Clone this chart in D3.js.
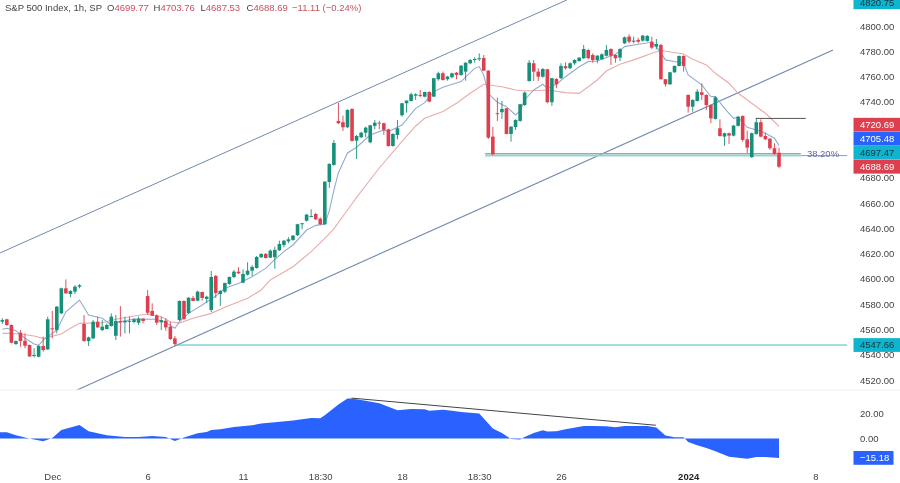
<!DOCTYPE html>
<html>
<head>
<meta charset="utf-8">
<script src="https://cdn.jsdelivr.net/npm/d3@7"></script>
<style>
    html, body { margin: 0; padding: 0; background: #fff; }
    svg { display: block; font-family: "Liberation Sans", sans-serif; filter: blur(0.3px); }
    .axis text { font-size: 9.5px; fill: #444; }
</style>
</head>
<body>
<svg id="chart" width="900" height="483"></svg>
<script>
// hourly candles, one entry per bar
var opens = [4566.1,4568,4563.5,4548.5,4557.4,4551.1,4547.7,4539,4538.4,4546.9,4544.2,4560.9,4559.5,4572.7,4592.5,4588,4589.9,4593.8,4564.3,4550.8,4552.9,4566.1,4559.5,4560.3,4562.7,4555,4566.7,4565.6,4566.1,4565.9,4565.3,4568.5,4586.4,4574.6,4571.1,4565.6,4566.9,4562.2,4552.9,4567.5,4582.5,4573,4584.9,4582.7,4589.6,4584.1,4575.4,4602.3,4588,4589.9,4596,4601.5,4605.7,4597,4603.3,4606.5,4608.6,4617.1,4619.7,4616.8,4617.1,4622.6,4626.8,4629.7,4630.8,4634.5,4643.2,4646,4649.2,4651.3,4647.6,4643.2,4676.6,4690.1,4724.9,4723.9,4719.9,4734.4,4709.3,4712,4715.6,4708,4721,4723.5,4723.1,4718.3,4705.1,4713.8,4729.4,4738.9,4740.7,4744.9,4745.4,4744.1,4747.8,4744.1,4757.9,4762.6,4757.9,4759.5,4763.1,4761.3,4763.9,4770.5,4773.1,4773.7,4774.7,4764.7,4712.5,4731,4731.8,4734.9,4714.6,4720.1,4724.9,4737.5,4756.5,4770.5,4763.9,4759.9,4765.8,4739.7,4758.1,4758.7,4768.2,4766.6,4770.5,4772.3,4774.5,4781,4777.1,4773.1,4773.7,4776.5,4781.8,4777.1,4775,4786.3,4791.6,4787.6,4789,4788.4,4788.2,4787.6,4783.7,4785,4757.9,4753.9,4763.4,4768.4,4776.3,4745.5,4736.2,4740.7,4747.6,4745.5,4737.5,4726.5,4719.1,4712.5,4715.2,4713.3,4721,4728.9,4710.4,4696.2,4714.6,4723.9,4713,4710.9,4703.3,4699.77];
var highs = [4568.8,4568.5,4564,4551.2,4559.5,4556.9,4548,4545,4547.7,4554.3,4570.1,4574.8,4578.5,4593,4599.6,4591.2,4595.1,4595.9,4571.4,4554.3,4567.4,4570.1,4567.4,4564.8,4572.7,4571.4,4578.5,4570.1,4570.1,4568.8,4570.1,4568.8,4591.2,4580.6,4571.9,4570.1,4568.8,4566.1,4554.8,4583,4583,4585.5,4586.5,4590.7,4590,4586.7,4606.2,4603.1,4591.2,4597,4601.7,4607,4609.2,4607.6,4613.1,4611,4618.1,4620.2,4620.5,4623.4,4625.5,4630.2,4630.8,4632.9,4634.7,4643.6,4644.2,4651.3,4655,4652.3,4648.7,4677.2,4691.5,4709.9,4739.1,4729.1,4734.1,4734.9,4713.8,4716.4,4720.4,4721.8,4725.7,4725.1,4723.5,4718.8,4715.2,4725.7,4739.1,4741.1,4747.3,4746.8,4749.4,4748,4748.4,4758.9,4763.9,4763.9,4760.5,4763.1,4763.6,4769.2,4771.2,4773.9,4775.3,4778.4,4777.1,4765,4720.1,4743.3,4740.7,4735.2,4720.7,4726.2,4738.3,4748,4773.1,4773.1,4766.6,4766.6,4766.1,4759,4758.7,4770.5,4771.3,4771.3,4773.7,4775.3,4785,4781.8,4778.4,4777.1,4778.4,4785,4782.4,4777.6,4782.4,4791.6,4793.5,4791.6,4790.8,4792.9,4792.9,4791.6,4789.7,4785.9,4758.1,4763.7,4768.7,4776.6,4776.8,4745.8,4742,4750,4754.7,4745.8,4737.8,4744.5,4726.2,4715.7,4715.7,4721.7,4728.9,4729.2,4717.2,4715.7,4727.3,4726.2,4715.7,4711.2,4707.3,4703.76];
var lows = [4564.3,4562.7,4549,4547.7,4546.3,4545,4538.4,4537.9,4537.9,4542.4,4543.8,4552.9,4556.9,4572.2,4588.3,4585.4,4588,4592.5,4550.3,4546.9,4552.7,4561.4,4558.7,4560.1,4562.2,4551.6,4554.3,4556.9,4556.9,4564.8,4563.5,4564.8,4571.4,4570.6,4563.5,4559.5,4559,4551.6,4546.9,4566.7,4567.5,4572.2,4582.5,4582.3,4582.7,4580.9,4573.8,4584.9,4578.6,4588.8,4595.2,4600.5,4603.9,4596.5,4602.8,4602.3,4608.1,4616.5,4616,4616.5,4608,4622,4625,4628.2,4630.2,4633.9,4639.2,4645.2,4648.7,4646.6,4642.6,4642.6,4671.9,4689.5,4722.5,4717,4719.1,4708.7,4694.8,4711.2,4712,4707.2,4718.3,4718.3,4713.8,4704.6,4704.6,4710.4,4728.3,4731.5,4740.2,4741.5,4743.6,4743.6,4739.7,4743.9,4756.8,4756.8,4756.8,4758.7,4757.9,4760.5,4756.8,4769.7,4771,4772.3,4764.4,4710.6,4697.8,4724.9,4726.5,4714.3,4708.5,4717.8,4724.3,4736.8,4756,4756.5,4756.5,4759.1,4738.9,4736.8,4750.8,4758.1,4765.5,4766,4769.2,4771.8,4773.9,4773.7,4771,4770.5,4773.1,4775.8,4769.2,4771,4772.3,4785.8,4786.3,4786.3,4786.3,4787.6,4787.6,4781.6,4781.6,4757.6,4752,4753.4,4763,4768,4763.9,4731.5,4732.2,4740.2,4741.5,4733.6,4723.1,4726,4712.5,4705.1,4706.7,4712.7,4720.5,4708.5,4699.6,4695.8,4714,4712,4709.9,4702,4698,4687.53];
var closes = [4567.4,4563.5,4549.5,4550.8,4550.8,4547.1,4538.6,4539.8,4546.9,4543.7,4568,4560.1,4578,4592.5,4588.5,4590.4,4593.8,4594.9,4550.8,4553.7,4566.1,4561.6,4562.2,4563.5,4570.1,4566.7,4565.6,4566.7,4566.7,4568,4568.5,4566.7,4573.2,4570.9,4565.3,4567.4,4561.6,4552.4,4548.5,4582.5,4568.3,4585.1,4582.5,4589.9,4584.9,4585.9,4601.5,4588.8,4590.4,4596.7,4601.5,4605.7,4604.4,4603.9,4606.5,4609.4,4617.3,4619.7,4616.5,4622.3,4622.9,4627.6,4630.2,4631.3,4634.2,4643.2,4644,4650.8,4649.7,4647.1,4643.2,4676.9,4690.9,4707.5,4723.1,4719.9,4733.6,4709.1,4713,4715.6,4719.6,4721.5,4723.5,4723.1,4717.8,4705.1,4714.6,4719.1,4738.9,4741,4746,4746,4744.9,4747.8,4740.2,4758.7,4762.6,4757.3,4760,4762.6,4761.3,4768.6,4771,4773.1,4773.9,4774.5,4764.7,4711.7,4698.5,4730.4,4734.4,4714.6,4720.4,4725.7,4738.1,4747.3,4771,4763.9,4759.9,4766,4739.7,4758.7,4753.9,4768.4,4766.6,4770.5,4773.1,4775,4781.8,4774.5,4773.1,4776.5,4777.6,4781,4776.5,4774.5,4781.8,4791.1,4787.6,4788.4,4787.6,4792.4,4792.1,4782.9,4785.8,4757.9,4753.9,4763.4,4768.4,4776.3,4768.4,4736.2,4741.5,4748.1,4745.5,4737.5,4727,4743.6,4713,4715.2,4713.3,4721.2,4728.3,4709.9,4703.8,4715.2,4723.9,4712.5,4710.4,4703.3,4698.8,4688.69];

// fast and slow moving averages, vertices only (bar number, price)
var fastBars = [0,1,3,5,7,8,9,11,12,14,17,19,22,24,26,29,34,36,38,39,41,44,47,49,52,55,58,60,62,64,67,69,71,72,73,74,76,78,81,84,85,88,91,93,95,97,101,104,105,106,107,109,111,113,114,115,117,119,120,122,124,127,129,131,135,137,140,143,144,146,148,150,151,154,156,157,159,161,162,164,166,168,170,171];
var fastValues = [4560.1,4560.9,4559,4553,4548.5,4547.4,4551.6,4556.9,4559.5,4574,4583.3,4571.4,4568.8,4563.5,4566.1,4568.2,4568,4565.3,4560.9,4566.1,4572.7,4579.3,4586.4,4592.5,4596.4,4601.7,4608.3,4615.4,4621.5,4626.8,4638.6,4642.3,4643.1,4654,4670,4684,4699.6,4704.1,4713.8,4717.8,4716.4,4721.7,4734.9,4739.4,4748.1,4751.5,4756,4766.5,4767.9,4761.2,4746.7,4739.6,4736.2,4729.6,4732.8,4741.5,4749.4,4753.9,4750.7,4753.9,4759.9,4767.8,4771.8,4772.3,4777.6,4783.7,4785.5,4787.1,4783.7,4773.2,4771.9,4770.5,4761.3,4753.4,4744.2,4744.2,4734.9,4727,4727.8,4719.9,4717.8,4715.2,4711.2,4705.48];
var slowBars = [0,2,4,7,9,13,15,17,22,25,29,32,35,37,39,42,46,49,54,57,59,64,68,71,73,76,78,83,87,91,93,97,100,103,106,110,113,115,120,124,127,129,131,133,136,140,143,145,150,152,155,157,160,162,165,168,171];
var slowValues = [4556.9,4556.9,4556.4,4554.8,4552.9,4556.4,4560.9,4564.8,4565.3,4568,4570.6,4572.2,4570.1,4566.1,4565,4568.8,4572.7,4577.5,4584.6,4591.2,4599.1,4609.6,4621.5,4632,4639.5,4654.5,4664.5,4687.7,4704.6,4720.9,4727,4732.3,4738.9,4746.8,4753.9,4752,4749.4,4748.6,4749.4,4747.3,4746.7,4752,4757.3,4764.4,4769.7,4774.4,4778.4,4780.6,4777.9,4773.7,4769.2,4762.6,4754.7,4746.8,4738.9,4731,4720.69];

// lower pane, oscillator vertices
var oscBars = [-1,1,3,5,7,9,11,13,17,19,23,27,30,33,36,38,40,43,45,46,48,51,55,57,60,64,68,70,71,74,76,77,80,83,87,90,93,94,97,99,101,105,106,108,110,112,114,115,117,119,120,122,124,128,130,133,135,137,142,144,146,148,150,151,153,155,157,160,161,164,166,168,171];
var oscValues = [5,5,2.6,0.8,-0.8,-2.1,0.5,6.8,10.8,5.8,2.6,1.3,1.3,2.1,1.3,-1.8,0.8,4.2,5.2,6.8,7.4,9.2,10.5,11.8,12.9,14.2,16.3,16,18.4,26.8,31.5,31.5,29.9,27.8,22.3,23.3,23.1,22,22.8,22,21,19.7,15.8,7.9,4.5,-0.3,-0.8,1.3,4.5,6.6,5.5,5.8,7.4,10,10,9.7,8.9,10,10,8.7,2.4,1,1,-2.6,-5.3,-7.4,-10,-14.2,-14.7,-15.8,-14.4,-14.4,-15.18];

// trend lines as [bar, price] pairs
var upperChannel = [[-0.5, 4620.5], [124.3, 4820.6]];
var lowerChannel = [[16.45, 4512.1], [182.9, 4781.05]];
var divergence = [[76.9, 31.9], [143.9, 10.5]];

var priceTicks = [4520,4540,4560,4580,4600,4620,4640,4660,4680,4740,4760,4780,4800];
var oscTicks = [0,20];
var timeBars = [11,32,53,70,88,105,123,151,179];
var timeLabels = ['Dec','6','11','18:30','18','18:30','26','2024','8'];

var lastPrice = 4688.69, slowLast = 4720.69, fastLast = 4705.48;
var fibPrice = 4697.47, fibTop = 4698.9, pivotPrice = 4547.66, topPrice = 4820.75, resistance = 4726.9;
var oscLast = -15.18;

var upColor = '#17907b', downColor = '#de3f4e', tealBadge = '#0fb5cf', blueArea = '#2962ff';

var svg = d3.select('#chart');
var x = d3.scaleLinear().domain([0, 171]).range([2.3, 779]);
var y = d3.scaleLinear().domain([4520, 4800]).range([380, 26]);
var yOsc = d3.scaleLinear().domain([0, 20]).range([438.6, 413.2]);

svg.append('clipPath').attr('id', 'mainClip').append('rect')
    .attr('x', 0).attr('y', 0).attr('width', 853).attr('height', 390);

var main = svg.append('g').attr('clip-path', 'url(#mainClip)');

//
//   Drawing objects under the candles
//
//////////////////////////////////////////////////////////////////////

function trend(parent, pts, yScale, color, width) {
    parent.append('line')
        .attr('x1', x(pts[0][0])).attr('y1', yScale(pts[0][1]))
        .attr('x2', x(pts[1][0])).attr('y2', yScale(pts[1][1]))
        .attr('stroke', color).attr('stroke-width', width);
}

trend(main, upperChannel, y, '#7189ae', 1);
trend(main, lowerChannel, y, '#7189ae', 1.1);

// pivot line out to its label
trend(main, [[38, pivotPrice], [186, pivotPrice]], y, '#45bccb', 1);

// 38.2 fib band, line continues to the badge after the text
trend(main, [[106.3, fibTop], [175.8, fibTop]], y, '#9aa8a8', 1.6);
trend(main, [[106.3, fibPrice], [175.8, fibPrice]], y, '#8fd6da', 1.6);
trend(main, [[175.8, fibPrice], [186, fibPrice]], y, '#45bccb', 1);

// moving averages
var maLine = d3.line().x(function(d) { return x(d[0]); }).y(function(d) { return y(d[1]); });

main.append('path')
    .attr('d', maLine(d3.zip(slowBars, slowValues)))
    .attr('fill', 'none').attr('stroke', '#e9acac').attr('stroke-width', 1.1);
main.append('path')
    .attr('d', maLine(d3.zip(fastBars, fastValues)))
    .attr('fill', 'none').attr('stroke', '#93abd0').attr('stroke-width', 1.1);

//
//   Candles
//
//////////////////////////////////////////////////////////////////////

var candles = main.selectAll('g.candle')
    .data(d3.range(opens.length))
    .enter().append('g')
    .attr('class', 'candle');

function candleColor(i) {
    return closes[i] >= opens[i] ? upColor : downColor;
}

candles.append('line')
    .attr('x1', function(i) { return x(i); })
    .attr('x2', function(i) { return x(i); })
    .attr('y1', function(i) { return y(highs[i]); })
    .attr('y2', function(i) { return y(lows[i]); })
    .attr('stroke', candleColor)
    .attr('stroke-width', 0.9);

candles.append('rect')
    .attr('x', function(i) { return x(i) - 1.8; })
    .attr('width', 3.6)
    .attr('y', function(i) { return y(Math.max(opens[i], closes[i])); })
    .attr('height', function(i) { return Math.max(0.9, Math.abs(y(opens[i]) - y(closes[i]))); })
    .attr('fill', candleColor);

// dark resistance segment sits on top
trend(main, [[165.9, resistance], [176.9, resistance]], y, '#555', 1);

main.append('text')
    .attr('x', 823).attr('y', y(fibPrice) - 1.6)
    .attr('text-anchor', 'middle').attr('dominant-baseline', 'middle')
    .attr('font-size', 9.5).attr('fill', '#6a65a8')
    .text('38.20%');

//
//   Oscillator pane
//
//////////////////////////////////////////////////////////////////////

svg.append('line')
    .attr('x1', 0).attr('x2', 900).attr('y1', 390).attr('y2', 390)
    .attr('stroke', '#eef0f3').attr('stroke-width', 1);

var oscArea = d3.area()
    .x(function(d) { return x(d[0]); })
    .y0(yOsc(0))
    .y1(function(d) { return yOsc(d[1]); });

svg.append('path')
    .attr('d', oscArea(d3.zip(oscBars, oscValues)))
    .attr('fill', blueArea);

trend(svg, divergence, yOsc, '#444', 1);

//
//   Axes
//
//////////////////////////////////////////////////////////////////////

var yAxis = d3.axisRight(y).tickValues(priceTicks).tickSize(0).tickPadding(0)
    .tickFormat(d3.format('.2f'));
svg.append('g').attr('class', 'axis').attr('transform', 'translate(860,0)').call(yAxis)
    .call(function(g) { g.select('.domain').remove(); });

var oscAxis = d3.axisRight(yOsc).tickValues(oscTicks).tickSize(0).tickPadding(0)
    .tickFormat(d3.format('.2f'));
svg.append('g').attr('class', 'axis').attr('transform', 'translate(860,0)').call(oscAxis)
    .call(function(g) { g.select('.domain').remove(); });

var xAxis = d3.axisBottom(x).tickValues(timeBars).tickSize(0).tickPadding(0)
    .tickFormat(function(d, i) { return timeLabels[i]; });
svg.append('g').attr('class', 'axis').attr('transform', 'translate(0,473)').call(xAxis)
    .call(function(g) {
        g.select('.domain').remove();
        g.selectAll('text').filter(function(d) { return d === 151; })
            .style('font-weight', 'bold').style('fill', '#222');
    });

//
//   Price badges
//
//////////////////////////////////////////////////////////////////////

function badge(cy, value, bg, fg, bx, bw) {
    svg.append('rect')
        .attr('x', bx).attr('y', cy - 6.9).attr('width', bw).attr('height', 13.8)
        .attr('fill', bg);
    svg.append('text')
        .attr('x', 860).attr('y', cy).attr('dy', '0.35em')
        .attr('font-size', 9.5).attr('fill', fg)
        .text(value);
}

// the TV scale pushes colliding labels apart, stacked up from the last price
var stackY = y(lastPrice);
badge(stackY, d3.format('.2f')(lastPrice), downColor, '#fff', 853.5, 46.5);
badge(stackY - 14, d3.format('.2f')(fibPrice), tealBadge, '#12353b', 853.5, 46.5);
badge(stackY - 28, d3.format('.2f')(fastLast), blueArea, '#fff', 853.5, 46.5);
badge(stackY - 42, d3.format('.2f')(slowLast), downColor, '#fff', 853.5, 46.5);
badge(y(pivotPrice), d3.format('.2f')(pivotPrice), tealBadge, '#12353b', 853.5, 46.5);
badge(y(topPrice) + 2.5, d3.format('.2f')(topPrice), tealBadge, '#12353b', 853.5, 46.5);
badge(yOsc(oscLast), '\u2212' + d3.format('.2f')(-oscLast), blueArea, '#fff', 853.5, 40);

//
//   Header
//
//////////////////////////////////////////////////////////////////////

var legend = svg.append('g').attr('font-size', 9.5);
legend.append('text').attr('x', 5).attr('y', 10.5).attr('fill', '#444').text('S&P 500 Index, 1h, SP');

var ohlcLabels = ['O', 'H', 'L', 'C'];
var ohlcValues = [opens[171], highs[171], lows[171], closes[171]];
var ohlcX = [107, 153.5, 200.5, 246.5];
ohlcLabels.forEach(function(label, n) {
    var t = legend.append('text').attr('x', ohlcX[n]).attr('y', 10.5).attr('fill', '#444').text(label);
    t.append('tspan').attr('fill', '#c9515e').text(d3.format('.2f')(ohlcValues[n]));
});
legend.append('text').attr('x', 292).attr('y', 10.5).attr('fill', '#c9515e')
    .text('\u221211.11 (\u22120.24%)');
</script>
</body>
</html>
